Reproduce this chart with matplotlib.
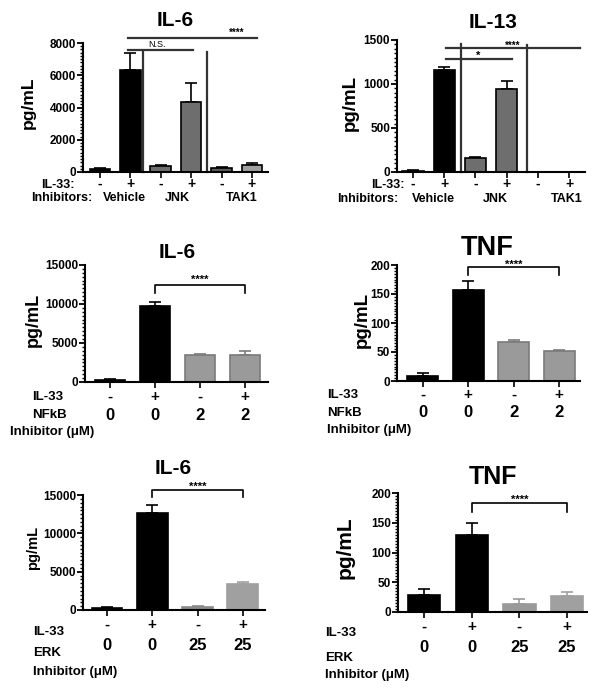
import matplotlib
matplotlib.use("Agg")
import matplotlib.pyplot as plt
import matplotlib.transforms as mtransforms
from matplotlib.ticker import AutoMinorLocator
import numpy as np

plt.rcParams['font.family'] = ['Liberation Sans', 'DejaVu Sans']
plt.rcParams['font.weight'] = 'bold'

W, H = 601, 693

# ---- data ----
il33_top = ['-', '+', '-', '+', '-', '+']
inhib_top = ['Vehicle', 'JNK', 'TAK1']

il6_jnk = [200, 6300, 400, 4350, 250, 450]
il6_jnk_err = [60, 1100, 60, 1150, 60, 120]

il13_jnk = [15, 1160, 160, 940, 0, 0]
il13_jnk_err = [10, 30, 5, 90, 0, 0]

il33_low = ['-', '+', '-', '+']
nfkb_dose = ['0', '0', '2', '2']
erk_dose = ['0', '0', '25', '25']

il6_nfkb = [300, 9800, 3400, 3500]
il6_nfkb_err = [50, 500, 250, 500]

tnf_nfkb = [8, 157, 68, 52]
tnf_nfkb_err = [5, 16, 3, 1.5]

il6_erk = [300, 12700, 400, 3350]
il6_erk_err = [80, 1000, 80, 250]

tnf_erk = [29, 130, 14, 27]
tnf_erk_err = [9, 19, 8, 6]

fig = plt.figure(figsize=(W / 100, H / 100), dpi=100)


def fy(py):
    return 1 - py / H


def panel(left, right, top, bottom, xlim, ymax, yticks, vals, errs, colors, edges,
          title, title_xy, title_size, ylab_xy, ylab_size):
    ax = fig.add_axes([left / W, 1 - bottom / H, (right - left) / W, (bottom - top) / H])
    x = np.arange(len(vals))
    if isinstance(edges, str):
        edges = [edges] * len(vals)
    ax.bar(x, vals, width=0.68, color=colors, edgecolor=edges, linewidth=1.2, zorder=2)
    for i in range(len(vals)):
        if vals[i] == 0:
            continue
        ax.errorbar(x[i], vals[i], yerr=[[0], [errs[i]]], fmt='none', ecolor=edges[i],
                    elinewidth=1.2, capsize=4, capthick=1.2, zorder=1)
    ax.set_xlim(*xlim)
    ax.set_ylim(0, ymax)
    ax.set_yticks(yticks)
    ax.set_yticklabels([str(t) for t in yticks], fontsize=8.5, fontweight='bold')
    ax.yaxis.set_minor_locator(AutoMinorLocator(10))
    ax.tick_params(axis='y', which='major', length=4, width=1.3, pad=1)
    ax.tick_params(axis='y', which='minor', length=2, width=1)
    ax.set_xticks(x)
    ax.set_xticklabels([])
    ax.tick_params(axis='x', length=4, width=1.2)
    for s in ['top', 'right']:
        ax.spines[s].set_visible(False)
    for s in ['left', 'bottom']:
        ax.spines[s].set_linewidth(1.5)
    fig.text(title_xy[0] / W, fy(title_xy[1]), title, fontsize=title_size,
             fontweight='bold', ha='center', va='center')
    fig.text(ylab_xy[0] / W, fy(ylab_xy[1]), 'pg/mL', fontsize=ylab_size,
             fontweight='bold', ha='center', va='center', rotation=90)
    return ax


def row(ax, labels, py, size, xs=None):
    tr = mtransforms.blended_transform_factory(ax.transData, fig.transFigure)
    if xs is None:
        xs = range(len(labels))
    for xi, lab in zip(xs, labels):
        ax.text(xi, fy(py), lab, transform=tr, ha='center', va='center',
                fontsize=size, fontweight='bold')


def bracket(ax, x0, x1, ytop, yend, stars, ystar):
    ax.plot([x0, x0, x1, x1], [yend, ytop, ytop, yend], color='black', lw=1.2, clip_on=False)
    ax.text((x0 + x1) / 2, ystar, stars, ha='center', va='center', fontsize=8, clip_on=False)


# ---- top left: IL-6, JNK / TAK1 ----
ax1 = panel(83, 268, 43, 172, (-0.56, 5.53), 8000, [0, 2000, 4000, 6000, 8000],
            il6_jnk, il6_jnk_err,
            ['black', 'black', '#6e6e6e', '#6e6e6e', '#5c5c5c', '#a0a0a0'], 'black',
            'IL-6', (175, 20), 15, (28, 103), 12.5)
ax1.plot([0.92, 3.06], [7560, 7560], color='#333333', lw=1.6, clip_on=False)
ax1.plot([0.92, 5.16], [8310, 8310], color='#333333', lw=1.6, clip_on=False)
ax1.plot([1.41, 1.41], [0, 7500], color='#333333', lw=1.6, clip_on=False)
ax1.plot([3.52, 3.52], [0, 7440], color='#333333', lw=1.6, clip_on=False)
ax1.text(1.87, 7900, 'N.S.', ha='center', va='center', fontsize=6.5, fontweight='normal')
ax1.text(4.5, 8600, '****', ha='center', va='center', fontsize=7, clip_on=False)
row(ax1, il33_top, 184, 10)
fig.text(75 / W, fy(185), 'IL-33:', ha='right', va='center', fontsize=9, fontweight='bold')
fig.text(31 / W, fy(198), 'Inhibitors:', ha='left', va='center', fontsize=9, fontweight='bold')
row(ax1, inhib_top, 198, 9, xs=[0.8, 2.53, 4.67])

# ---- top right: IL-13, JNK / TAK1 ----
ax2 = panel(397, 585, 40, 172, (-0.51, 5.51), 1500, [0, 500, 1000, 1500],
            il13_jnk, il13_jnk_err,
            ['black', 'black', '#6e6e6e', '#6e6e6e', '#6e6e6e', '#6e6e6e'], 'black',
            'IL-13', (493, 23), 15, (350, 103), 13.5)
ax2.plot([1.06, 3.17], [1284, 1284], color='#333333', lw=1.6, clip_on=False)
ax2.plot([1.06, 5.35], [1409, 1409], color='#333333', lw=1.6, clip_on=False)
ax2.plot([1.54, 1.54], [0, 1450], color='#333333', lw=1.6, clip_on=False)
ax2.plot([3.65, 3.65], [0, 1440], color='#333333', lw=1.6, clip_on=False)
ax2.text(2.08, 1320, '*', ha='center', va='center', fontsize=8)
ax2.text(3.2, 1430, '****', ha='center', va='center', fontsize=7, clip_on=False)
row(ax2, il33_top, 184, 10)
fig.text(405 / W, fy(185), 'IL-33:', ha='right', va='center', fontsize=9, fontweight='bold')
fig.text(337 / W, fy(199), 'Inhibitors:', ha='left', va='center', fontsize=9, fontweight='bold')
row(ax2, inhib_top, 199, 9, xs=[0.64, 2.63, 4.94])

# ---- middle left: IL-6, NFkB ----
ax3 = panel(85, 268, 265, 382, (-0.56, 3.51), 15000, [0, 5000, 10000, 15000],
            il6_nfkb, il6_nfkb_err,
            ['black', 'black', '#9a9a9a', '#9a9a9a'], ['black', 'black', '#7a7a7a', '#7a7a7a'],
            'IL-6', (177, 252), 15, (33, 320), 13)
bracket(ax3, 1, 3, 12436, 11400, '****', 13100)
row(ax3, il33_low, 397, 11)
row(ax3, nfkb_dose, 415, 12)
fig.text(32 / W, fy(397), 'IL-33', ha='left', va='center', fontsize=9.5, fontweight='bold')
fig.text(32 / W, fy(415), 'NFkB', ha='left', va='center', fontsize=9.5, fontweight='bold')
fig.text(10 / W, fy(432), 'Inhibitor (\u03bcM)', ha='left', va='center', fontsize=9.5, fontweight='bold')

# ---- middle right: TNF, NFkB ----
ax4 = panel(397, 580, 265, 381, (-0.57, 3.46), 200, [0, 50, 100, 150, 200],
            tnf_nfkb, tnf_nfkb_err,
            ['black', 'black', '#9a9a9a', '#9a9a9a'], ['black', 'black', '#7a7a7a', '#7a7a7a'],
            'TNF', (487, 248), 19.5, (362, 320), 13.5)
bracket(ax4, 1, 3, 196.6, 183, '****', 200)
row(ax4, il33_low, 395, 11)
row(ax4, nfkb_dose, 413, 12)
fig.text(327 / W, fy(395), 'IL-33', ha='left', va='center', fontsize=9.5, fontweight='bold')
fig.text(327 / W, fy(413), 'NFkB', ha='left', va='center', fontsize=9.5, fontweight='bold')
fig.text(327 / W, fy(430), 'Inhibitor (\u03bcM)', ha='left', va='center', fontsize=9.5, fontweight='bold')

# ---- bottom left: IL-6, ERK ----
ax5 = panel(83, 265, 495, 610, (-0.53, 3.49), 15000, [0, 5000, 10000, 15000],
            il6_erk, il6_erk_err,
            ['black', 'black', '#8a8a8a', '#a0a0a0'], ['black', 'black', '#8a8a8a', '#a0a0a0'],
            'IL-6', (173, 468), 15, (33, 548), 10.5)
bracket(ax5, 1, 3, 15650, 14740, '****', 16100)
row(ax5, il33_low, 625, 11)
row(ax5, erk_dose, 645, 12)
fig.text(33 / W, fy(632), 'IL-33', ha='left', va='center', fontsize=9.5, fontweight='bold')
fig.text(33 / W, fy(653), 'ERK', ha='left', va='center', fontsize=9.5, fontweight='bold')
fig.text(33 / W, fy(672), 'Inhibitor (\u03bcM)', ha='left', va='center', fontsize=9.5, fontweight='bold')

# ---- bottom right: TNF, ERK ----
ax6 = panel(398, 587, 493, 612, (-0.55, 3.42), 200, [0, 50, 100, 150, 200],
            tnf_erk, tnf_erk_err,
            ['black', 'black', '#9a9a9a', '#a0a0a0'], ['black', 'black', '#9a9a9a', '#a0a0a0'],
            'TNF', (493, 477), 18, (345, 548), 15)
bracket(ax6, 1, 3, 183, 168, '****', 188)
row(ax6, il33_low, 627, 11)
row(ax6, erk_dose, 648, 12)
fig.text(325 / W, fy(633), 'IL-33', ha='left', va='center', fontsize=9.5, fontweight='bold')
fig.text(325 / W, fy(658), 'ERK', ha='left', va='center', fontsize=9.5, fontweight='bold')
fig.text(325 / W, fy(675), 'Inhibitor (\u03bcM)', ha='left', va='center', fontsize=9.5, fontweight='bold')

fig.savefig('out.png', dpi=100, facecolor='white')
